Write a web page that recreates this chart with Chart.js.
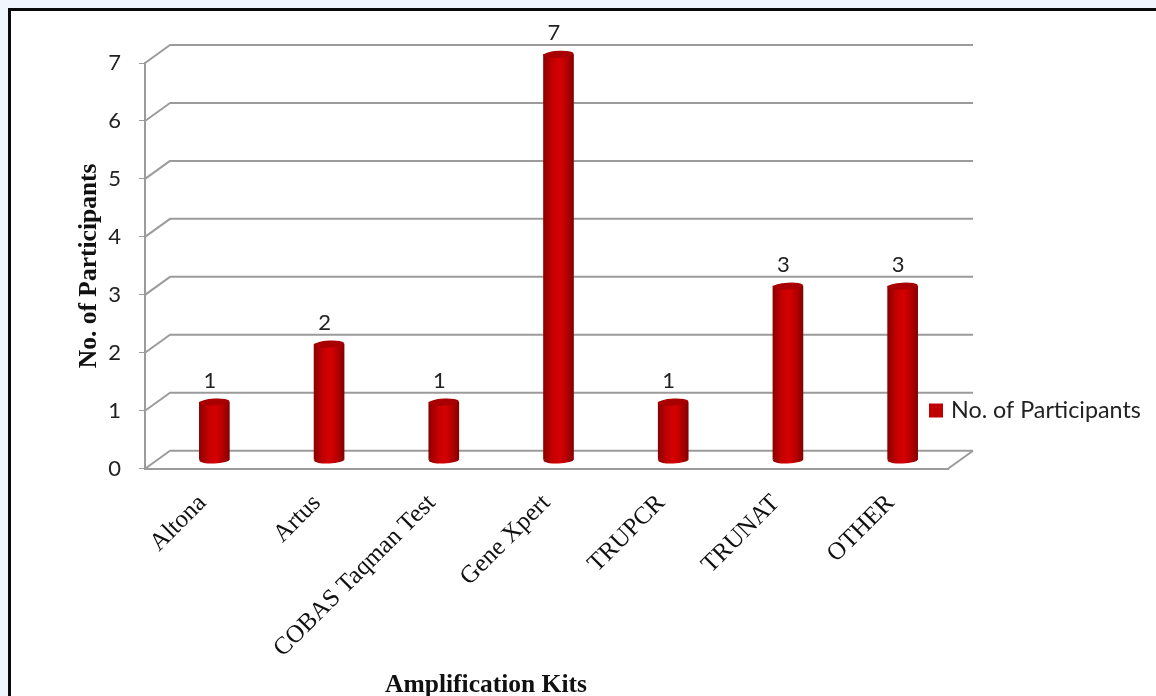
<!DOCTYPE html>
<html><head><meta charset="utf-8">
<script src="https://cdn.jsdelivr.net/npm/chart.js@4"></script>
<style>
html,body{margin:0;padding:0;width:1156px;height:696px;overflow:hidden;background:#f1f5fd;}
#frame{position:absolute;left:8px;top:8px;width:1160px;height:700px;border:3px solid #0a0a0a;background:#fff;}
canvas{position:absolute;left:0;top:0;}
</style></head><body>
<div id="frame"></div>
<canvas id="c" width="1156" height="696" style="width:1156px;height:696px"></canvas>
<script>
const categories = ["Altona","Artus","COBAS Taqman Test","Gene Xpert","TRUPCR","TRUNAT","OTHER"];
const seriesName = "No. of Participants";
const seriesValues = [1,2,1,7,1,3,3];
const xTitle = "Amplification Kits";
const yTitle = "No. of Participants";

const sans = "Lato, 'Open Sans', sans-serif";
const serif = "'Liberation Serif', serif";
const gridGray = "#9b9b9b";
const barW = 30;
const depthX = 25, depthY = 18;      // back wall offset
const midX = 12, midY = 8.7;         // bar plane offset

function barGradient(ctx, cx){
  if(!Number.isFinite(cx)) return "#c00000";
  const g = ctx.createLinearGradient(cx-barW/2,0,cx+barW/2,0);
  g.addColorStop(0,"#8c0000");
  g.addColorStop(0.3,"#c40000");
  g.addColorStop(0.55,"#d60000");
  g.addColorStop(0.8,"#b00000");
  g.addColorStop(1,"#850000");
  return g;
}

const wallsAndCylinders = {
  id:"wallsAndCylinders",
  beforeDatasetsDraw(chart){
    const {ctx,chartArea:a,scales:{y}} = chart;
    ctx.save();
    ctx.strokeStyle = gridGray; ctx.lineWidth = 2; ctx.lineJoin="round";
    y.ticks.forEach(t=>{
      const p = y.getPixelForValue(t.value);
      ctx.beginPath();
      ctx.moveTo(a.left,p);
      ctx.lineTo(a.left+depthX,p-depthY);
      ctx.lineTo(a.right+depthX,p-depthY);
      ctx.stroke();
    });
    const p0 = y.getPixelForValue(0);
    ctx.beginPath();
    ctx.moveTo(a.right,p0);
    ctx.lineTo(a.right+depthX,p0-depthY);
    ctx.stroke();
    ctx.restore();
  },
  beforeDatasetDraw(chart){
    const {ctx,scales:{y}} = chart;
    ctx.save();
    ctx.translate(midX,-midY);
    const base = y.getPixelForValue(0);
    chart.getDatasetMeta(0).data.forEach(el=>{
      ctx.beginPath();
      ctx.ellipse(el.x,base,barW/2,3.5,-0.04,0,Math.PI*2);
      ctx.fillStyle = barGradient(ctx,el.x);
      ctx.fill();
    });
  },
  afterDatasetDraw(chart){
    const {ctx} = chart;
    chart.getDatasetMeta(0).data.forEach(el=>{
      ctx.beginPath();
      ctx.ellipse(el.x,el.y,barW/2,3.5,-0.06,0,Math.PI*2);
      ctx.fillStyle = "#a80000";
      ctx.fill();
    });
    ctx.restore();
    // value labels
    ctx.save();
    ctx.font = "22px "+sans;
    ctx.fillStyle = "#222";
    ctx.textAlign = "center"; ctx.textBaseline = "middle";
    chart.getDatasetMeta(0).data.forEach((el,i)=>{
      ctx.fillText(String(seriesValues[i]), el.x+midX-4.5, el.y-midY-21);
    });
    // legend
    ctx.fillStyle = "#c00000";
    ctx.fillRect(929,403.5,14,14);
    ctx.fillStyle = "#222";
    ctx.textAlign = "left";
    ctx.font = "23.3px "+sans;
    ctx.fillText(seriesName, 951, 410);
    // x axis title
    ctx.font = "bold 25.5px "+serif;
    ctx.fillStyle = "#111";
    ctx.textAlign = "center";
    ctx.fillText(xTitle, 486, 685);
    ctx.restore();
  }
};

new Chart(document.getElementById("c"),{
  type:"bar",
  data:{labels:categories,datasets:[{
    label:seriesName,
    data:seriesValues,
    barThickness:barW,
    clip:false,
    backgroundColor:c=>barGradient(c.chart.ctx,c.chart.scales.x.getPixelForValue(c.dataIndex))
  }]},
  plugins:[wallsAndCylinders],
  options:{
    responsive:false,animation:false,devicePixelRatio:1,
    layout:{padding:{left:0,right:208,top:63,bottom:0}},
    plugins:{legend:{display:false},tooltip:{enabled:false}},
    scales:{
      x:{
        afterFit(s){s.height=227.3;},
        grid:{display:false},
        border:{display:true,color:gridGray,width:2},
        ticks:{autoSkip:false,minRotation:45,maxRotation:45,padding:12,color:"#111",font:{family:serif,size:25}}
      },
      y:{
        min:0,max:7,
        afterFit(s){s.width=145;},
        grid:{drawOnChartArea:false,tickLength:6,color:gridGray,lineWidth:1},
        border:{display:true,color:gridGray,width:2},
        ticks:{stepSize:1,padding:18,color:"#222",font:{family:sans,size:22}},
        title:{display:true,text:yTitle,color:"#111",font:{family:serif,size:25.5,weight:"bold"},padding:{top:74,bottom:0}}
      }
    }
  }
});
</script>
</body></html>
